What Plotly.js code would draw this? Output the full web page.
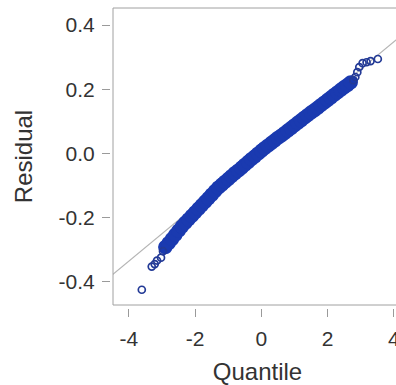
<!DOCTYPE html>
<html>
<head>
<meta charset="utf-8">
<script src="https://cdn.plot.ly/plotly-3.0.1.min.js"></script>
<style>
  html, body { margin: 0; padding: 0; overflow: hidden; background: #fff; }
  #chart { width: 402px; height: 385px; }
</style>
</head>
<body>
<div id="chart"></div>
<script>
// Normal quantiles (x) and residuals (y), dense central band
const bandQ = [-2.9, -2.8, -2.7, -2.6, -2.5, -2.4, -2.3, -2.2, -2.1, -2.0,
               -1.9, -1.8, -1.7, -1.6, -1.5, -1.4, -1.3, -1.2, -1.1, -1.0,
               -0.9, -0.8, -0.7, -0.6, -0.5, -0.4, -0.3, -0.2, -0.1, 0.0,
               0.1, 0.2, 0.3, 0.4, 0.5, 0.6, 0.7, 0.8, 0.9, 1.0,
               1.1, 1.2, 1.3, 1.4, 1.5, 1.6, 1.7, 1.8, 1.9, 2.0,
               2.1, 2.2, 2.3, 2.4, 2.5, 2.6, 2.7];
const bandR = [-0.292, -0.280, -0.267, -0.254, -0.241, -0.228, -0.217, -0.206, -0.195, -0.184,
               -0.173, -0.162, -0.151, -0.140, -0.129, -0.118, -0.107, -0.098, -0.089, -0.080,
               -0.071, -0.062, -0.054, -0.045, -0.036, -0.027, -0.018, -0.010, -0.001, 0.008,
               0.016, 0.024, 0.032, 0.040, 0.048, 0.055, 0.063, 0.071, 0.079, 0.087,
               0.095, 0.103, 0.111, 0.119, 0.127, 0.134, 0.142, 0.150, 0.158, 0.166,
               0.174, 0.182, 0.190, 0.198, 0.206, 0.213, 0.221];
// Sparse tail points
const lowTailQ = [-3.61, -3.31, -3.22, -3.15, -3.03, -2.97];
const lowTailR = [-0.425, -0.353, -0.345, -0.334, -0.325, -0.305];
const highTailQ = [2.78, 2.84, 2.90, 2.96, 3.06, 3.18, 3.30, 3.52];
const highTailR = [0.228, 0.238, 0.253, 0.269, 0.281, 0.284, 0.2875, 0.294];
// Reference line endpoints
const refQ = [-5, 5];
const refR = [-0.421, 0.433];
// Ticks
const xTicks = [-4, -2, 0, 2, 4];
const xTickText = ['-4', '-2', '0', '2', '4'];
const yTicks = [-0.4, -0.2, 0.0, 0.2, 0.4];
const yTickText = ['-0.4', '-0.2', '0.0', '0.2', '0.4'];

const bandColor = '#1a3ab0';
const tailColor = '#233a96';
const font = 'Liberation Sans, Arial, sans-serif';

const traces = [
  { x: refQ, y: refR, mode: 'lines', line: { color: '#b4b4b4', width: 1.2 }, hoverinfo: 'skip', showlegend: false },
  { x: bandQ, y: bandR, mode: 'markers', showlegend: false,
    marker: { symbol: 'circle-open', size: 9, color: bandColor, line: { width: 5.5, color: bandColor } } },
  { x: lowTailQ.concat(highTailQ), y: lowTailR.concat(highTailR), mode: 'markers', showlegend: false,
    marker: { symbol: 'circle-open', size: 7, color: tailColor, line: { width: 1.7, color: tailColor } } }
];

const axisCommon = {
  anchor: 'free', position: 0, showline: false, showgrid: false, zeroline: false,
  ticks: 'outside', ticklen: 8, tickwidth: 1, tickcolor: '#9a9a9a',
  tickfont: { family: font, size: 21, color: '#333333' }
};

const layout = {
  width: 402, height: 385,
  margin: { l: 110, r: 0, t: 8, b: 77 },
  paper_bgcolor: '#ffffff', plot_bgcolor: '#ffffff',
  showlegend: false,
  xaxis: Object.assign({}, axisCommon, {
    domain: [0.0103, 1], range: [-4.48, 4.25],
    tickvals: xTicks, ticktext: xTickText, ticklabelstandoff: 4,
    title: { text: 'Quantile', font: { family: font, size: 24, color: '#333333' }, standoff: 16 }
  }),
  yaxis: Object.assign({}, axisCommon, {
    domain: [0.01, 1], range: [-0.4726, 0.453],
    tickvals: yTicks, ticktext: yTickText, ticklabelstandoff: 3,
    title: { text: 'Residual', font: { family: font, size: 24, color: '#333333' }, standoff: 18 }
  }),
  shapes: [
    { type: 'rect', xref: 'paper', yref: 'paper', x0: 0.0103, x1: 1.05, y0: 0.01, y1: 1,
      line: { color: '#a0a0a0', width: 1 }, fillcolor: 'rgba(0,0,0,0)', layer: 'above' }
  ]
};

Plotly.newPlot('chart', traces, layout, { displayModeBar: false, staticPlot: true });
</script>
</body>
</html>
